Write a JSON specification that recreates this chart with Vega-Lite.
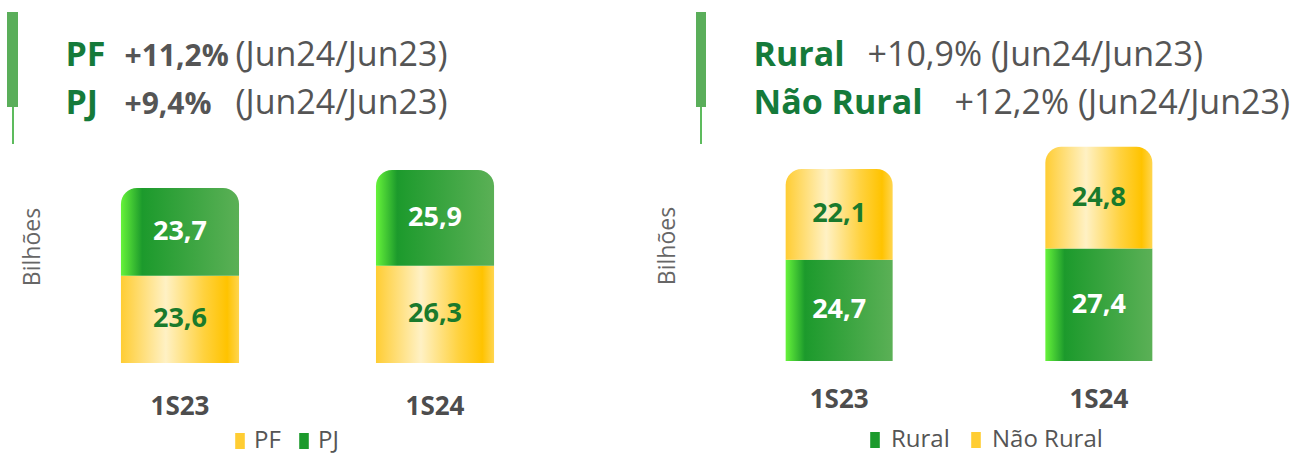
{
  "$schema": "https://vega.github.io/schema/vega-lite/v6.json",
  "background": "white",
  "padding": {"left": 7, "top": 12, "right": 0, "bottom": 10},
  "autosize": {"type": "pad"},
  "config": {
    "view": {"stroke": null},
    "font": "Open Sans",
    "concat": {"spacing": 101},
    "locale": {"number": {"decimal": ",", "thousands": ".", "grouping": [3], "currency": ["R$", ""]}}
  },
  "resolve": {
    "scale": {"color": "independent", "stroke": "independent"},
    "legend": {"color": "independent", "stroke": "independent"}
  },
  "datasets": {
    "pfpj": [
      {"period": "1S23", "series": "PF", "value": 23.6},
      {"period": "1S23", "series": "PJ", "value": 23.7},
      {"period": "1S24", "series": "PF", "value": 26.3},
      {"period": "1S24", "series": "PJ", "value": 25.9}
    ],
    "rural": [
      {"period": "1S23", "series": "Rural", "value": 24.7},
      {"period": "1S23", "series": "Não Rural", "value": 22.1},
      {"period": "1S24", "series": "Rural", "value": 27.4},
      {"period": "1S24", "series": "Não Rural", "value": 24.8}
    ]
  },
  "hconcat": [
    {
      "width": 495,
      "height": 233,
      "data": {"name": "pfpj"},
      "transform": [
        {"stack": "value", "groupby": ["period"], "sort": [{"field": "series", "order": "ascending"}], "as": ["v0", "v1"]}
      ],
      "resolve": {"axis": {"x": "independent", "y": "independent"}, "scale": {"stroke": "independent"}, "legend": {"stroke": "independent"}},
      "layer": [
        {
          "transform": [{"filter": "datum.series === 'PF'"}],
          "mark": {
            "type": "bar",
            "color": {"gradient": "linear", "x1": 0, "y1": 0, "x2": 1, "y2": 0,
                      "stops": [{"offset": 0, "color": "#ffcd33"}, {"offset": 0.38, "color": "#fff1c4"}, {"offset": 0.7, "color": "#ffd23f"}, {"offset": 0.9, "color": "#ffc300"}, {"offset": 1, "color": "#ffd54f"}]}
          },
          "encoding": {
            "x": {
              "field": "period", "type": "nominal",
              "scale": {"paddingInner": 0.537, "paddingOuter": 0.239},
              "axis": {"orient": "bottom", "labelAngle": 0, "domain": false, "ticks": false, "labelPadding": 30,
                       "labelFontSize": 26, "labelFontWeight": "bold", "labelColor": "#4d4d4d", "labelFont": "Open Sans",
                       "title": ["(Jun24/Jun23)", "(Jun24/Jun23)"], "titleX": 175, "titleY": -298, "titleAngle": 0,
                       "titleAlign": "left", "titleBaseline": "alphabetic", "titleFontSize": 34, "titleLineHeight": 48,
                       "titleFontWeight": "normal", "titleColor": "#555555", "titleFont": "Open Sans"}
            },
            "y": {
              "field": "v1", "type": "quantitative",
              "scale": {"domain": [0, 63], "nice": false},
              "axis": {"orient": "left", "title": "Bilhões", "labels": false, "ticks": false, "domain": false, "grid": false,
                       "titleFontSize": 23, "titleColor": "#666666", "titleFontWeight": "normal", "titlePadding": 16}
            },
            "y2": {"field": "v0"}
          }
        },
        {
          "transform": [{"filter": "datum.series === 'PJ'"}],
          "mark": {
            "type": "bar", "cornerRadiusTopLeft": 16, "cornerRadiusTopRight": 16,
            "color": {"gradient": "linear", "x1": 0, "y1": 0, "x2": 1, "y2": 0,
                      "stops": [{"offset": 0, "color": "#66f33a"}, {"offset": 0.18, "color": "#1c9a2c"}, {"offset": 1, "color": "#5bb056"}]}
          },
          "encoding": {
            "x": {
              "field": "period", "type": "nominal",
              "axis": {"orient": "top", "labels": false, "domain": false, "ticks": false,
                       "title": ["PF", "PJ"], "titleX": 5, "titleY": -65, "titleAngle": 0,
                       "titleAlign": "left", "titleBaseline": "alphabetic", "titleFontSize": 34, "titleLineHeight": 48,
                       "titleFontWeight": "bold", "titleColor": "#157a3a", "titleFont": "Open Sans"}
            },
            "y": {
              "field": "v1", "type": "quantitative",
              "axis": {"orient": "right", "labels": false, "ticks": false, "domain": false, "grid": false,
                       "title": ["+11,2%", "+9,4%"], "titleX": -431, "titleY": -65, "titleAngle": 0,
                       "titleAlign": "left", "titleBaseline": "alphabetic", "titleFontSize": 30, "titleLineHeight": 48,
                       "titleFontWeight": "bold", "titleColor": "#555555", "titleFont": "Open Sans"}
            },
            "y2": {"field": "v0"}
          }
        },
        {
          "mark": {"type": "bar", "opacity": 0},
          "encoding": {
            "x": {"field": "period", "type": "nominal", "axis": null},
            "y": {"field": "v1", "type": "quantitative", "axis": null},
            "y2": {"field": "v0"},
            "color": {
              "field": "series", "type": "nominal",
              "scale": {"domain": ["PF", "PJ"], "range": ["#ffcd33", "#1c9a2c"]},
              "legend": {"title": null, "orient": "none", "legendX": 168, "legendY": 299, "direction": "horizontal",
                         "labelFontSize": 24, "labelColor": "#555555", "labelOffset": 2,
                         "symbolType": "M-0.6,-1H0.6V1H-0.6Z", "symbolSize": 256,
                         "symbolOpacity": 1, "columnPadding": 11}
            },
            "stroke": {
              "field": "value", "type": "quantitative",
              "scale": {"range": ["#5aae5a", "#5aae5a"]},
              "legend": {"title": null, "orient": "none", "direction": "vertical", "legendX": -53, "legendY": -118,
                         "gradientLength": 95, "gradientThickness": 11, "gradientStrokeWidth": 0,
                         "labelExpr": "''", "labelOpacity": 0, "padding": 0}
            }
          }
        },
        {
          "transform": [
            {"fold": ["v0", "v1"], "as": ["edge", "pos"]},
            {"aggregate": [{"op": "mean", "field": "pos", "as": "mid"}, {"op": "max", "field": "value", "as": "value"}], "groupby": ["period", "series"]}
          ],
          "mark": {"type": "text", "fontSize": 27, "fontWeight": "bold", "font": "Open Sans", "strokeWidth": 0},
          "encoding": {
            "x": {"field": "period", "type": "nominal", "axis": null},
            "y": {"field": "mid", "type": "quantitative", "axis": null},
            "text": {"field": "value", "type": "quantitative", "format": ".1f"},
            "color": {"condition": {"test": "datum.series === 'PJ'", "value": "white"}, "value": "#1a7a2c"},
            "stroke": {
              "field": "value", "type": "quantitative",
              "scale": {"range": ["#5dbb5d", "#5dbb5d"]},
              "legend": {"title": null, "orient": "none", "direction": "vertical", "legendX": -48, "legendY": -23,
                         "gradientLength": 37, "gradientThickness": 2, "gradientStrokeWidth": 0,
                         "labelExpr": "''", "labelOpacity": 0, "padding": 0}
            }
          }
        }
      ]
    },
    {
      "width": 536,
      "height": 231,
      "data": {"name": "rural"},
      "transform": [
        {"stack": "value", "groupby": ["period"], "sort": [{"field": "series", "order": "descending"}], "as": ["v0", "v1"]}
      ],
      "resolve": {"axis": {"x": "independent", "y": "independent"}, "scale": {"stroke": "independent"}, "legend": {"stroke": "independent"}},
      "layer": [
        {
          "transform": [{"filter": "datum.series === 'Rural'"}],
          "mark": {
            "type": "bar",
            "color": {"gradient": "linear", "x1": 0, "y1": 0, "x2": 1, "y2": 0,
                      "stops": [{"offset": 0, "color": "#66f33a"}, {"offset": 0.18, "color": "#1c9a2c"}, {"offset": 1, "color": "#5bb056"}]}
          },
          "encoding": {
            "x": {
              "field": "period", "type": "nominal",
              "scale": {"paddingInner": 0.588, "paddingOuter": 0.326},
              "axis": {"orient": "bottom", "labelAngle": 0, "domain": false, "ticks": false, "labelPadding": 25,
                       "labelFontSize": 26, "labelFontWeight": "bold", "labelColor": "#4d4d4d", "labelFont": "Open Sans",
                       "title": "+12,2% (Jun24/Jun23)", "titleX": 253, "titleY": -248, "titleAngle": 0,
                       "titleAlign": "left", "titleBaseline": "alphabetic", "titleFontSize": 34,
                       "titleFontWeight": "normal", "titleColor": "#555555", "titleFont": "Open Sans"}
            },
            "y": {
              "field": "v1", "type": "quantitative",
              "scale": {"domain": [0, 56.3], "nice": false},
              "axis": {"orient": "left", "title": "Bilhões", "labels": false, "ticks": false, "domain": false, "grid": false,
                       "titleFontSize": 23, "titleColor": "#666666", "titleFontWeight": "normal", "titlePadding": 22}
            },
            "y2": {"field": "v0"}
          }
        },
        {
          "transform": [{"filter": "datum.series === 'Não Rural'"}],
          "mark": {
            "type": "bar", "cornerRadiusTopLeft": 16, "cornerRadiusTopRight": 16,
            "color": {"gradient": "linear", "x1": 0, "y1": 0, "x2": 1, "y2": 0,
                      "stops": [{"offset": 0, "color": "#ffcd33"}, {"offset": 0.38, "color": "#fff1c4"}, {"offset": 0.7, "color": "#ffd23f"}, {"offset": 0.9, "color": "#ffc300"}, {"offset": 1, "color": "#ffd54f"}]}
          },
          "encoding": {
            "x": {
              "field": "period", "type": "nominal",
              "axis": {"orient": "top", "labels": false, "domain": false, "ticks": false,
                       "title": ["Rural", "Não Rural"], "titleX": 52, "titleY": -65, "titleAngle": 0,
                       "titleAlign": "left", "titleBaseline": "alphabetic", "titleFontSize": 34, "titleLineHeight": 48,
                       "titleFontWeight": "bold", "titleColor": "#157a3a", "titleFont": "Open Sans"}
            },
            "y": {
              "field": "v1", "type": "quantitative",
              "axis": {"orient": "right", "labels": false, "ticks": false, "domain": false, "grid": false,
                       "title": "+10,9% (Jun24/Jun23)", "titleX": -370, "titleY": -65, "titleAngle": 0,
                       "titleAlign": "left", "titleBaseline": "alphabetic", "titleFontSize": 34,
                       "titleFontWeight": "normal", "titleColor": "#555555", "titleFont": "Open Sans"}
            },
            "y2": {"field": "v0"}
          }
        },
        {
          "mark": {"type": "bar", "opacity": 0},
          "encoding": {
            "x": {"field": "period", "type": "nominal", "axis": null},
            "y": {"field": "v1", "type": "quantitative", "axis": null},
            "y2": {"field": "v0"},
            "color": {
              "field": "series", "type": "nominal",
              "scale": {"domain": ["Rural", "Não Rural"], "range": ["#1c9a2c", "#ffcd33"]},
              "legend": {"title": null, "orient": "none", "legendX": 162, "legendY": 298, "direction": "horizontal",
                         "labelFontSize": 24, "labelColor": "#555555", "labelOffset": 4,
                         "symbolType": "M-0.6,-1H0.6V1H-0.6Z", "symbolSize": 256,
                         "symbolOpacity": 1, "columnPadding": 14}
            },
            "stroke": {
              "field": "value", "type": "quantitative",
              "scale": {"range": ["#5aae5a", "#5aae5a"]},
              "legend": {"title": null, "orient": "none", "direction": "vertical", "legendX": -5, "legendY": -118,
                         "gradientLength": 95, "gradientThickness": 10, "gradientStrokeWidth": 0,
                         "labelExpr": "''", "labelOpacity": 0, "padding": 0}
            }
          }
        },
        {
          "transform": [
            {"fold": ["v0", "v1"], "as": ["edge", "pos"]},
            {"aggregate": [{"op": "mean", "field": "pos", "as": "mid"}, {"op": "max", "field": "value", "as": "value"}], "groupby": ["period", "series"]}
          ],
          "mark": {"type": "text", "fontSize": 27, "fontWeight": "bold", "font": "Open Sans", "strokeWidth": 0},
          "encoding": {
            "x": {"field": "period", "type": "nominal", "axis": null},
            "y": {"field": "mid", "type": "quantitative", "axis": null},
            "text": {"field": "value", "type": "quantitative", "format": ".1f"},
            "color": {"condition": {"test": "datum.series === 'Rural'", "value": "white"}, "value": "#1a7a2c"},
            "stroke": {
              "field": "value", "type": "quantitative",
              "scale": {"range": ["#5dbb5d", "#5dbb5d"]},
              "legend": {"title": null, "orient": "none", "direction": "vertical", "legendX": -1, "legendY": -23,
                         "gradientLength": 37, "gradientThickness": 2, "gradientStrokeWidth": 0,
                         "labelExpr": "''", "labelOpacity": 0, "padding": 0}
            }
          }
        }
      ]
    }
  ]
}
